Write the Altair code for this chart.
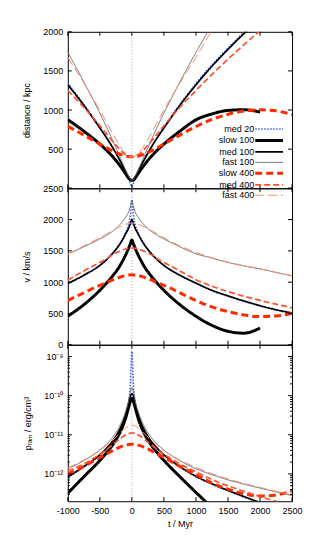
import altair as alt
import pandas as pd

# ---------------- data ----------------
T = [-1000, -750, -500, -400, -300, -200, -150, -100, -50, -25, 0, 25, 50, 100,
     150, 200, 300, 400, 500, 750, 1000, 1250, 1500, 1750, 2000, 2250, 2500]
T_SLOW100 = T[:25]  # the "slow 100" run stops at 2000 Myr

SERIES = ["med 20", "slow 100", "med 100", "fast 100", "slow 400", "med 400", "fast 400"]

# distance / kpc
dist_med20 = [1347, 1075, 782, 660, 528, 382, 305, 218, 115, 62, 20, 62, 115, 218, 305, 382, 528, 660, 782, 1075, 1340, 1578, 1792, 1995, 2180, 2355, 2515]
dist_slow100 = [877, 730, 565, 490, 405, 305, 250, 190, 130, 108, 100, 108, 130, 190, 250, 305, 405, 490, 565, 730, 875, 950, 995, 1004, 975]
dist_med100 = [1322, 1060, 770, 650, 520, 375, 300, 220, 143, 112, 100, 112, 143, 220, 300, 375, 520, 650, 770, 1060, 1322, 1560, 1775, 1978, 2165, 2340, 2500]
dist_fast100 = [1737, 1360, 960, 790, 610, 425, 330, 240, 155, 116, 100, 116, 155, 240, 330, 425, 610, 790, 960, 1360, 1737, 2090, 2430, 2760, 3080, 3390, 3700]
dist_slow400 = [792, 680, 565, 520, 478, 440, 425, 413, 406, 404, 403, 404, 406, 413, 425, 440, 478, 520, 565, 680, 790, 880, 945, 988, 1003, 990, 942]
dist_med400 = [1250, 1035, 800, 700, 600, 505, 462, 430, 407, 402, 400, 402, 407, 430, 462, 505, 600, 700, 800, 1035, 1250, 1455, 1650, 1835, 2010, 2175, 2330]
dist_fast400 = [1674, 1345, 1000, 850, 700, 560, 495, 445, 412, 403, 400, 403, 412, 445, 495, 560, 700, 850, 1000, 1345, 1674, 2020, 2350, 2670, 2990, 3300, 3610]

# v / km/s
vel_med20 = [970, 1105, 1265, 1355, 1465, 1600, 1685, 1790, 1930, 2060, 2320, 2060, 1930, 1790, 1685, 1600, 1465, 1355, 1265, 1105, 978, 862, 774, 692, 618, 553, 500]
vel_slow100 = [456, 640, 870, 980, 1100, 1240, 1330, 1430, 1545, 1610, 1672, 1610, 1545, 1430, 1330, 1240, 1100, 980, 870, 640, 456, 310, 215, 185, 268]
vel_med100 = [980, 1111, 1268, 1355, 1460, 1590, 1670, 1766, 1865, 1930, 2000, 1930, 1865, 1766, 1670, 1590, 1460, 1355, 1268, 1111, 985, 870, 781, 700, 625, 560, 508]
vel_fast100 = [1450, 1565, 1690, 1745, 1815, 1905, 1965, 2035, 2125, 2200, 2300, 2200, 2125, 2035, 1965, 1905, 1815, 1745, 1690, 1565, 1455, 1385, 1315, 1260, 1212, 1155, 1100]
vel_slow400 = [707, 830, 950, 990, 1035, 1075, 1092, 1105, 1113, 1116, 1117, 1116, 1113, 1105, 1092, 1075, 1035, 990, 950, 830, 707, 605, 530, 475, 450, 460, 500]
vel_med400 = [1032, 1180, 1315, 1370, 1440, 1490, 1512, 1530, 1540, 1544, 1545, 1544, 1540, 1530, 1512, 1490, 1440, 1370, 1315, 1180, 1040, 935, 850, 775, 708, 648, 590]
vel_fast400 = [1445, 1580, 1710, 1770, 1825, 1880, 1905, 1925, 1938, 1942, 1943, 1942, 1938, 1925, 1905, 1880, 1825, 1770, 1710, 1580, 1475, 1390, 1320, 1262, 1213, 1158, 1103]

# p_ram / erg/cm^3
p_med20 = [8.1e-13, 1.49e-12, 3.01e-12, 4.35e-12, 6.85e-12, 1.26e-11, 1.90e-11, 3.3e-11, 7.0e-11, 1.78e-10, 1.35e-9, 1.78e-10, 7.0e-11, 3.3e-11, 1.90e-11, 1.26e-11, 6.85e-12, 4.35e-12, 3.01e-12, 1.49e-12, 8.4e-13, 5.41e-13, 3.67e-13, 2.54e-13, 1.80e-13, 1.30e-13, 9.7e-14]
p_slow100 = [3.2e-13, 8.45e-13, 2.21e-12, 3.40e-12, 5.53e-12, 1.03e-11, 1.55e-11, 2.59e-11, 5.06e-11, 7.06e-11, 8.43e-11, 7.06e-11, 5.06e-11, 2.59e-11, 1.55e-11, 1.03e-11, 5.53e-12, 3.40e-12, 2.21e-12, 8.45e-13, 3.36e-13, 1.39e-13, 6.3e-14, 4.6e-14, 1.0e-13]
p_med100 = [8.4e-13, 1.54e-12, 3.08e-12, 4.44e-12, 6.95e-12, 1.28e-11, 1.91e-11, 3.25e-11, 6.49e-11, 9.66e-11, 1.12e-10, 9.66e-11, 6.49e-11, 3.25e-11, 1.91e-11, 1.28e-11, 6.95e-12, 4.44e-12, 3.08e-12, 1.54e-12, 8.7e-13, 5.60e-13, 3.79e-13, 2.63e-13, 1.86e-13, 1.34e-13, 1.01e-13]
p_fast100 = [1.35e-12, 2.18e-12, 4.07e-12, 5.65e-12, 8.67e-12, 1.56e-11, 2.33e-11, 3.84e-11, 7.55e-11, 1.20e-10, 1.60e-10, 1.20e-10, 7.55e-11, 3.84e-11, 2.33e-11, 1.56e-11, 8.67e-12, 5.65e-12, 4.07e-12, 2.18e-12, 1.36e-12, 9.57e-13, 7.03e-13, 5.45e-13, 4.34e-13, 3.46e-13, 2.79e-13]
p_slow400 = [1.0e-12, 1.56e-12, 2.63e-12, 3.19e-12, 3.92e-12, 4.72e-12, 5.11e-12, 5.43e-12, 5.64e-12, 5.71e-12, 5.74e-12, 5.71e-12, 5.64e-12, 5.43e-12, 5.11e-12, 4.72e-12, 3.92e-12, 3.19e-12, 2.63e-12, 1.56e-12, 9.6e-13, 5.87e-13, 4.09e-13, 3.09e-13, 2.72e-13, 2.90e-13, 3.66e-13]
p_med400 = [1.2e-12, 1.79e-12, 3.16e-12, 4.09e-12, 5.57e-12, 7.53e-12, 8.75e-12, 9.86e-12, 1.08e-11, 1.10e-11, 1.11e-11, 1.10e-11, 1.08e-11, 9.86e-12, 8.75e-12, 7.53e-12, 5.57e-12, 4.09e-12, 3.16e-12, 1.79e-12, 1.12e-12, 7.11e-13, 4.95e-13, 3.57e-13, 2.64e-13, 1.98e-13, 1.50e-13]
p_fast400 = [1.42e-12, 2.26e-12, 3.94e-12, 5.26e-12, 7.28e-12, 1.04e-11, 1.26e-11, 1.49e-11, 1.68e-11, 1.74e-11, 1.75e-11, 1.74e-11, 1.68e-11, 1.49e-11, 1.26e-11, 1.04e-11, 7.28e-12, 5.26e-12, 3.94e-12, 2.26e-12, 1.47e-12, 1.01e-12, 7.41e-13, 5.70e-13, 4.53e-13, 3.61e-13, 2.90e-13]

# axis ticks
X_TICKS = [-1000, -500, 0, 500, 1000, 1500, 2000, 2500]
DIST_TICKS = [0, 500, 1000, 1500, 2000]
DIST_LABELS = [500, 1000, 1500, 2000]   # the "0" sits under the "2500" of the panel below
VEL_TICKS = [0, 500, 1000, 1500, 2000, 2500]
P_TICKS = [1e-12, 1e-11, 1e-10, 1e-9]
P_MINOR = [3e-13, 4e-13, 5e-13, 6e-13, 7e-13, 8e-13, 9e-13,
           2e-12, 3e-12, 4e-12, 5e-12, 6e-12, 7e-12, 8e-12, 9e-12,
           2e-11, 3e-11, 4e-11, 5e-11, 6e-11, 7e-11, 8e-11, 9e-11,
           2e-10, 3e-10, 4e-10, 5e-10, 6e-10, 7e-10, 8e-10, 9e-10]

# styles
COLORS = ["#3a5cf2", "#000000", "#000000", "#6e6e6e", "#ff2a00", "#ff5030", "#ff8c70"]
DASHES = [[1.5, 1.5], [1, 0], [1, 0], [1, 0], [7, 4], [6, 3], [9, 4]]
WIDTHS = [1.5, 3.0, 1.7, 1.0, 3.0, 1.7, 1.0]

FONT = "Liberation Sans"
W, H = 225, 157


def long_table(arrays):
    rows = []
    for name, vals in zip(SERIES, arrays):
        ts = T_SLOW100 if name == "slow 100" else T
        for t, v in zip(ts, vals):
            rows.append({"series": name, "t": t, "y": v})
    return pd.DataFrame(rows)


# legend: label on the left, a 28px line sample on the right (gnuplot style)
legend = alt.Legend(
    orient="none", legendX=196, legendY=92, title=None, padding=0,
    labelAlign="right", labelOffset={"expr": "-21"}, symbolSize=81,
    symbolType="M-3.1,0H3.1", rowPadding=0, labelFontSize=9, labelFont=FONT,
    labelColor="black",
)
COLOR = alt.Color("series:N", scale=alt.Scale(domain=SERIES, range=COLORS), legend=legend)
DASH = alt.StrokeDash("series:N", scale=alt.Scale(domain=SERIES, range=DASHES), legend=legend)
SW = alt.StrokeWidth("series:N", scale=alt.Scale(type="ordinal", domain=SERIES, range=WIDTHS), legend=legend)

x_scale = alt.Scale(domain=[-1000, 2500], nice=False, zero=False)


def panel(df, y_scale, y_axis, y_ticks, y_minor=None, bottom=False):
    if bottom:
        x_axis = alt.Axis(values=X_TICKS, ticks=False, domain=False, grid=False,
                          labelExpr="'' + datum.value", labelPadding=5, titlePadding=4,
                          labelFlush=False)
        X = alt.X("t:Q", scale=x_scale, axis=x_axis, title="t / Myr")
    else:
        X = alt.X("t:Q", scale=x_scale, axis=None)
    Y = alt.Y("y:Q", scale=y_scale, axis=y_axis)

    zero = alt.Chart(pd.DataFrame({"t": [0]})).mark_rule(
        color="#a8a8a8", strokeDash=[1, 2], strokeWidth=1).encode(x=X)
    lines = alt.Chart(df).mark_line(clip=True, interpolate="monotone").encode(
        x=X, y=Y, color=COLOR, strokeDash=DASH, strokeWidth=SW,
        order=alt.Order("t:Q"))

    xt = pd.DataFrame({"t": X_TICKS})
    xt_b = alt.Chart(xt).mark_rule(color="black", strokeWidth=1).encode(
        x=X, y=alt.value(H), y2=alt.value(H - 4))
    xt_t = alt.Chart(xt).mark_rule(color="black", strokeWidth=1).encode(
        x=X, y=alt.value(0), y2=alt.value(4))
    yt = pd.DataFrame({"y": y_ticks})
    yt_l = alt.Chart(yt).mark_rule(color="black", strokeWidth=1).encode(
        y=Y, x=alt.value(0), x2=alt.value(4))
    yt_r = alt.Chart(yt).mark_rule(color="black", strokeWidth=1).encode(
        y=Y, x=alt.value(W - 4), x2=alt.value(W))
    layers = [zero, lines, xt_b, xt_t, yt_l, yt_r]
    if y_minor:
        ym = pd.DataFrame({"y": y_minor})
        layers.append(alt.Chart(ym).mark_rule(color="black", strokeWidth=1).encode(
            y=Y, x=alt.value(0), x2=alt.value(2)))
        layers.append(alt.Chart(ym).mark_rule(color="black", strokeWidth=1).encode(
            y=Y, x=alt.value(W - 2), x2=alt.value(W)))
    return alt.layer(*layers).properties(width=W, height=H)


def yaxis(values, title, label_expr="'' + datum.value"):
    return alt.Axis(values=values, ticks=False, domain=False, grid=False, title=title,
                    labelPadding=5, titlePadding=11, labelExpr=label_expr)


top = panel(long_table([dist_med20, dist_slow100, dist_med100, dist_fast100,
                        dist_slow400, dist_med400, dist_fast400]),
            alt.Scale(domain=[0, 2000], nice=False, zero=False),
            yaxis(DIST_LABELS, "distance / kpc"), DIST_TICKS)
mid = panel(long_table([vel_med20, vel_slow100, vel_med100, vel_fast100,
                        vel_slow400, vel_med400, vel_fast400]),
            alt.Scale(domain=[0, 2500], nice=False, zero=False),
            yaxis(VEL_TICKS, "v / km/s"), VEL_TICKS)
p_labels = ("datum.value > 5e-10 ? '10⁻⁹' : datum.value > 5e-11 ? '10⁻¹⁰' : "
            "datum.value > 5e-12 ? '10⁻¹¹' : '10⁻¹²'")
bot = panel(long_table([p_med20, p_slow100, p_med100, p_fast100,
                        p_slow400, p_med400, p_fast400]),
            alt.Scale(type="log", domain=[2e-13, 2e-9], nice=False),
            yaxis(P_TICKS, "pᵣₐₘ / erg/cm³", p_labels), P_TICKS, P_MINOR, bottom=True)

chart = (
    alt.vconcat(top, mid, bot, spacing=0, bounds="flush")
    .properties(padding={"left": 14, "top": 18, "right": 5, "bottom": 5})
    .configure_view(stroke="black", strokeWidth=1)
    .configure_axis(labelFont=FONT, titleFont=FONT, labelFontSize=9, titleFontSize=9,
                    titleFontWeight="normal", labelColor="black", titleColor="black")
    .configure_legend(labelFont=FONT, labelFontSize=9)
)

chart.save("out.html", embed_options={"renderer": "svg", "actions": False})
